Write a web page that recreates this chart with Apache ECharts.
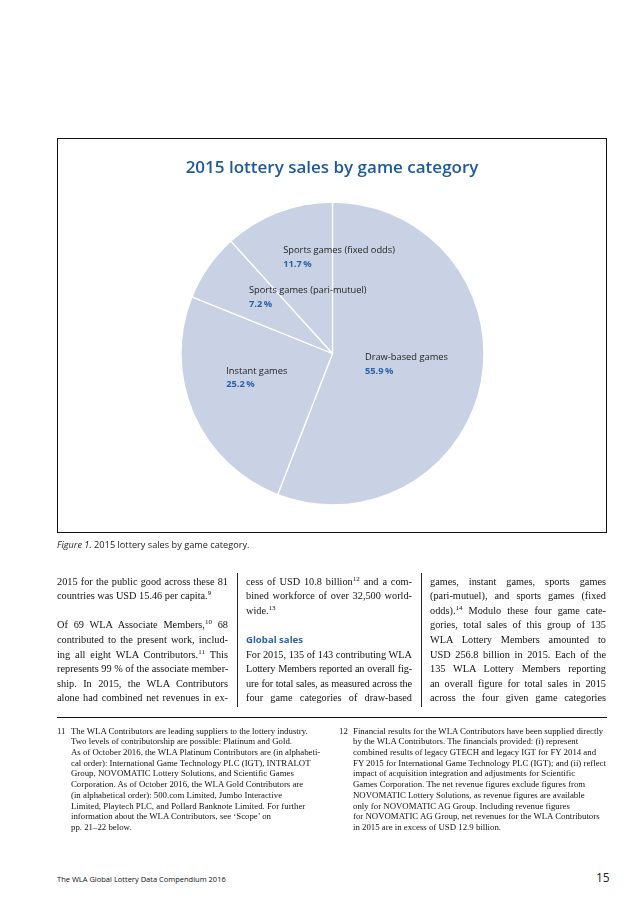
<!DOCTYPE html>
<html>
<head>
<meta charset="utf-8">
<script src="https://cdn.jsdelivr.net/npm/echarts@6/dist/echarts.min.js"></script>
<style>
  html, body { margin: 0; padding: 0; background: #fff; }
  #page { position: relative; width: 638px; height: 903px; overflow: hidden; background: #fff; }
  .abs { position: absolute; }
  #frame { left: 57px; top: 138px; width: 550px; height: 395px; border: 1.6px solid #111; box-sizing: border-box; }
  #chart { left: 57px; top: 138px; width: 550px; height: 395px; }
  .caption { left: 57px; top: 538px; font-family: "Open Sans", sans-serif; font-size: 9.2px; color: #222; white-space: nowrap; }
  .col { font-family: "Liberation Serif", serif; font-size: 10.3px; line-height: 14.6px; color: #111; }
  .col div { white-space: nowrap; height: 14.6px; }
  .j { text-align: justify; text-align-last: justify; }
  sup { font-size: 7px; line-height: 0; vertical-align: 3.8px; }
  .head { font-family: "Open Sans", sans-serif; font-weight: 700; color: #2b63a3; font-size: 9.6px; }
  .sep { width: 0; border-left: 1.2px solid #222; }
  .rule { left: 57px; top: 717px; width: 550px; height: 0; border-top: 1.2px solid #111; }
  .fn { font-family: "Liberation Serif", serif; font-size: 8.8px; line-height: 10.7px; color: #111; white-space: nowrap; }
  .fnum { font-family: "Liberation Serif", serif; font-size: 8.8px; line-height: 10.7px; color: #111; }
  .footer { left: 57px; top: 874px; font-family: "Open Sans", sans-serif; font-size: 7.5px; color: #111; white-space: nowrap; }
  .pagenum { left: 596px; top: 869px; font-family: "Open Sans", sans-serif; font-size: 12px; color: #222; }
</style>
</head>
<body>
<div id="page">
  <div id="chart" class="abs"></div>
  <div id="frame" class="abs"></div>

  <div class="abs caption"><i>Figure 1.</i> 2015 lottery sales by game category.</div>

  <div class="abs col" style="left:57px; top:574.7px; width:171px;">
    <div class="j">2015 for the public good across these 81</div>
    <div>countries was USD 15.46 per capita.<sup>9</sup></div>
    <div></div>
    <div class="j">Of 69 WLA Associate Members,<sup>10</sup> 68</div>
    <div class="j">contributed to the present work, includ-</div>
    <div class="j">ing all eight WLA Contributors.<sup>11</sup> This</div>
    <div class="j">represents 99 % of the associate member-</div>
    <div class="j">ship. In 2015, the WLA Contributors</div>
    <div class="j">alone had combined net revenues in ex-</div>
  </div>
  <div class="abs sep" style="left:237px; top:573px; height:134px;"></div>

  <div class="abs col" style="left:246px; top:574.7px; width:166px;">
    <div class="j">cess of USD 10.8 billion<sup>12</sup> and a com-</div>
    <div class="j">bined workforce of over 32,500 world-</div>
    <div>wide.<sup>13</sup></div>
    <div></div>
    <div class="head">Global sales</div>
    <div class="j">For 2015, 135 of 143 contributing WLA</div>
    <div class="j">Lottery Members reported an overall fig-</div>
    <div class="j">ure for total sales, as measured across the</div>
    <div class="j">four game categories of draw-based</div>
  </div>
  <div class="abs sep" style="left:421px; top:573px; height:134px;"></div>

  <div class="abs col" style="left:430px; top:574.7px; width:176px;">
    <div class="j">games, instant games, sports games</div>
    <div class="j">(pari-mutuel), and sports games (fixed</div>
    <div class="j">odds).<sup>14</sup> Modulo these four game cate-</div>
    <div class="j">gories, total sales of this group of 135</div>
    <div class="j">WLA Lottery Members amounted to</div>
    <div class="j">USD 256.8 billion in 2015. Each of the</div>
    <div class="j">135 WLA Lottery Members reporting</div>
    <div class="j">an overall figure for total sales in 2015</div>
    <div class="j">across the four given game categories</div>
  </div>

  <div class="abs rule"></div>

  <div class="abs fnum" style="left:57px; top:725.6px;">11</div>
  <div class="abs fn" style="left:71px; top:725.6px;">
    <div>The WLA Contributors are leading suppliers to the lottery industry.</div>
    <div>Two levels of contributorship are possible: Platinum and Gold.</div>
    <div>As of October 2016, the WLA Platinum Contributors are (in alphabeti-</div>
    <div>cal order): International Game Technology PLC (IGT), INTRALOT</div>
    <div>Group, NOVOMATIC Lottery Solutions, and Scientific Games</div>
    <div>Corporation. As of October 2016, the WLA Gold Contributors are</div>
    <div>(in alphabetical order): 500.com Limited, Jumbo Interactive</div>
    <div>Limited, Playtech PLC, and Pollard Banknote Limited. For further</div>
    <div>information about the WLA Contributors, see ‘Scope’ on</div>
    <div>pp. 21–22 below.</div>
  </div>

  <div class="abs fnum" style="left:339px; top:725.6px;">12</div>
  <div class="abs fn" style="left:353px; top:725.6px;">
    <div>Financial results for the WLA Contributors have been supplied directly</div>
    <div>by the WLA Contributors. The financials provided: (i) represent</div>
    <div>combined results of legacy GTECH and legacy IGT for FY 2014 and</div>
    <div>FY 2015 for International Game Technology PLC (IGT); and (ii) reflect</div>
    <div>impact of acquisition integration and adjustments for Scientific</div>
    <div>Games Corporation. The net revenue figures exclude figures from</div>
    <div>NOVOMATIC Lottery Solutions, as revenue figures are available</div>
    <div>only for NOVOMATIC AG Group. Including revenue figures</div>
    <div>for NOVOMATIC AG Group, net revenues for the WLA Contributors</div>
    <div>in 2015 are in excess of USD 12.9 billion.</div>
  </div>

  <div class="abs footer">The WLA Global Lottery Data Compendium 2016</div>
  <div class="abs pagenum">15</div>
</div>

<script>
// ---- data ----
const chartTitle = '2015 lottery sales by game category';
const categories = ['Draw-based games', 'Instant games', 'Sports games (pari-mutuel)', 'Sports games (fixed odds)'];
const shares = [55.9, 25.2, 7.2, 11.7];

// ---- label nudges (style only) ----
const labelNudge = [[-45, -4], [-34, -7], [-19, -11], [-21, -23]];

const chart = echarts.init(document.getElementById('chart'), null, { renderer: 'canvas' });
chart.setOption({
  animation: false,
  backgroundColor: 'transparent',
  title: {
    text: chartTitle,
    left: 'center',
    top: 17,
    textStyle: { fontFamily: 'Open Sans', fontWeight: 600, fontSize: 17, color: '#1f5a98' }
  },
  series: [{
    type: 'pie',
    center: [275.5, 215.5],
    radius: [0, 151.5],
    startAngle: 90,
    clockwise: true,
    silent: true,
    itemStyle: { color: '#c9d2e4', borderColor: '#ffffff', borderWidth: 1.3 },
    label: {
      show: true,
      position: 'inside',
      align: 'left',
      verticalAlign: 'middle',
      formatter: function (p) {
        return '{n|' + p.name + '}\n{p|' + p.value.toFixed(1) + '\u2009%}';
      },
      rich: {
        n: { fontFamily: 'Open Sans', fontSize: 9.3, color: '#222', lineHeight: 13.8 },
        p: { fontFamily: 'Open Sans', fontSize: 9.3, fontWeight: 700, color: '#2b63a3', lineHeight: 13.8 }
      }
    },
    labelLayout: function (params) {
      const d = labelNudge[params.dataIndex];
      return { dx: d[0], dy: d[1], align: 'left' };
    },
    labelLine: { show: false },
    data: categories.map(function (c, i) { return { name: c, value: shares[i] }; })
  }]
});

// fit justified lines that are too long
document.querySelectorAll('.j').forEach(function (el) {
  if (el.scrollWidth > el.clientWidth + 0.5) {
    const chars = el.textContent.length;
    const over = el.scrollWidth - el.clientWidth;
    el.style.letterSpacing = (-(over + 2) / chars) + 'px';
  }
});
</script>
</body>
</html>
